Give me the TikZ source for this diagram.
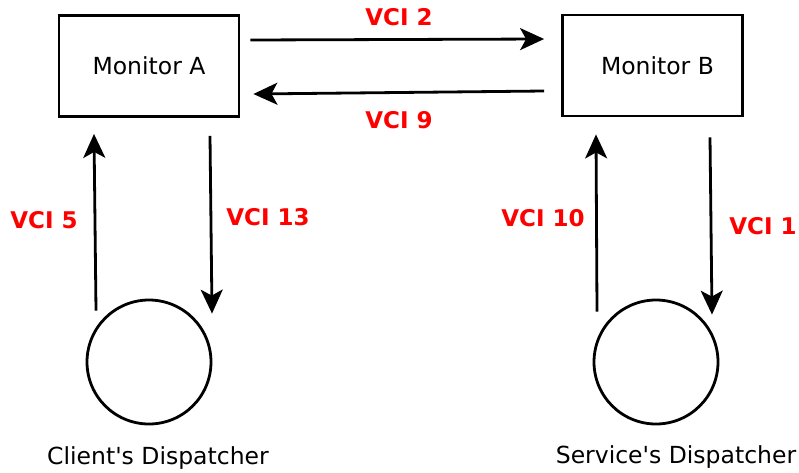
\documentclass[tikz,border=0pt]{standalone}
\usepackage{fontspec}
\setmainfont{DejaVu Sans}
\usetikzlibrary{arrows.meta}

\begin{document}
\begin{tikzpicture}[x=1pt,y=-1pt,->,>={Stealth[length=24pt,width=22pt,inset=6pt]},line width=2.8pt,
    box node/.style={rectangle,draw,minimum width=180pt,minimum height=101pt,font=\fontsize{23.5}{27}\selectfont},
    disp node/.style={circle,draw,minimum size=124pt},
    name node/.style={font=\fontsize{23.5}{27}\selectfont},
    vci node/.style={text=red,font=\fontsize{23}{27}\selectfont\bfseries}]
            \useasboundingbox (0,0) rectangle (799,472);

            \node[box node] (A) at (149,66) {Monitor A};
            \node[box node] (B) at (652.5,65.5) {\hspace{10pt}Monitor B};

            \node[disp node] (C) at (149,362) {};
            \node[disp node] (D) at (656,362) {};

            \node[name node] (CN) at (158,458) {Client\textquotesingle s Dispatcher};
            \node[name node] (DN) at (676,457) {Service\textquotesingle s Dispatcher};

            % monitor to monitor
            \draw ([xshift=10pt,yshift=26pt]A.east) -- ([xshift=-17pt,yshift=26.5pt]B.west);
            \draw ([xshift=-17pt,yshift=-25.5pt]B.west) -- ([xshift=13pt,yshift=-28pt]A.east);

            % dispatchers
            \draw ([xshift=-53pt,yshift=-12pt]C.north) -- ([xshift=-55pt,yshift=-16pt]A.south);
            \draw ([xshift=61pt,yshift=-18pt]A.south) -- ([xshift=63pt,yshift=-15pt]C.north);
            \draw ([xshift=-59pt,yshift=-13pt]D.north) -- ([xshift=-56.5pt,yshift=-17pt]B.south);
            \draw ([xshift=57.5pt,yshift=-20pt]B.south) -- ([xshift=56pt,yshift=-16pt]D.north);

            \node[vci node] (v2) at (399,17) {VCI 2};
            \node[vci node] (v9) at (399,120) {VCI 9};
            \node[vci node] (v5) at (44,220) {VCI 5};
            \node[vci node] (v13) at (268,217) {VCI 13};
            \node[vci node] (v10) at (543,218) {VCI 10};
            \node[vci node] (v1) at (763,226) {VCI 1};
        \end{tikzpicture}
\end{document}
